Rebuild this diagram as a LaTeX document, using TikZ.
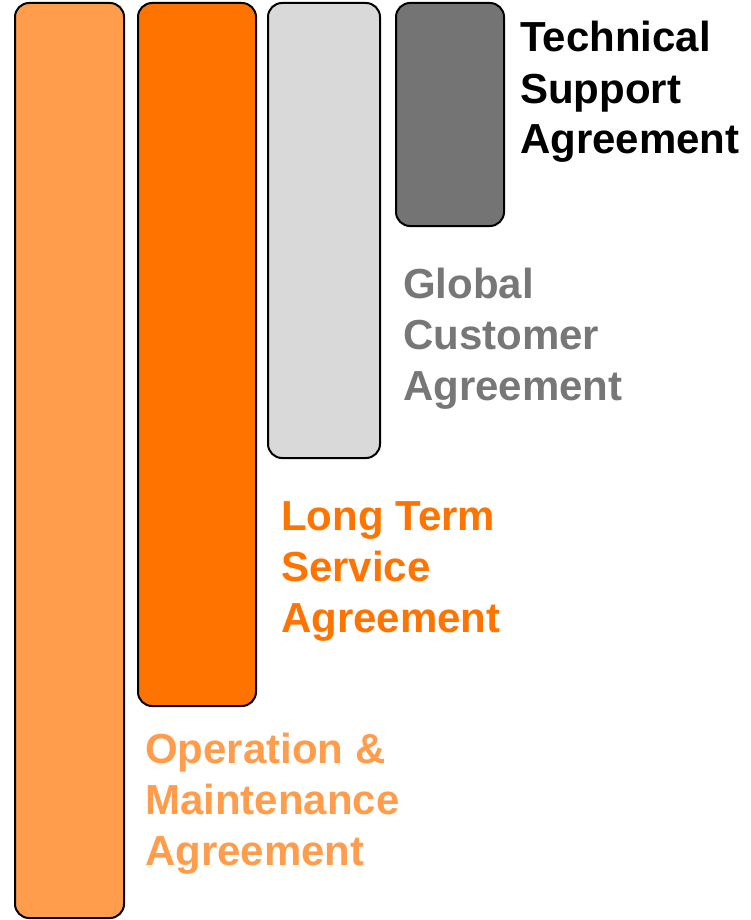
\documentclass[tikz,border=0pt]{standalone}
\usepackage{fontspec}
\setmainfont{Liberation Sans}
\definecolor{omorange}{HTML}{FF9D4D}
\definecolor{ltorange}{HTML}{FF7300}
\definecolor{gclight}{HTML}{D9D9D9}
\definecolor{tsdark}{HTML}{747474}
\definecolor{gctext}{HTML}{777777}
\tikzset{
  bar/.style={draw=black, line width=2pt, rounded corners=14pt},
  lbl/.style={anchor=base west, align=left, inner sep=0pt,
    font=\fontsize{42}{51}\selectfont\bfseries}
}
\begin{document}
\begin{tikzpicture}[x=1pt,y=-1pt]
\useasboundingbox (0,0) rectangle (751,920);
% the four agreements, longest first
\draw[bar,fill=omorange] (15,3) rectangle (124,918);
\draw[bar,fill=ltorange] (138,3) rectangle (256,706);
\draw[bar,fill=gclight] (268,3) rectangle (380,458);
\draw[bar,fill=tsdark] (396,3) rectangle (504,226);
% labels (base = last line)
\node[lbl,text=black] (tsa) at (520,154) {Technical\\Support\\Agreement};
\node[lbl,text=gctext] (gca) at (403,400) {Global\\Customer\\Agreement};
\node[lbl,text=ltorange] (ltsa) at (281,632) {Long Term\\Service\\Agreement};
\node[lbl,text=omorange] (oma) at (145,865) {Operation \&\\Maintenance\\Agreement};
\end{tikzpicture}
\end{document}
